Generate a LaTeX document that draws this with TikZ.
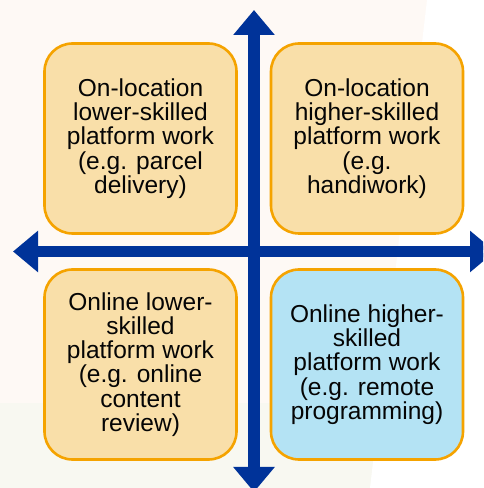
\documentclass[tikz,border=0pt]{standalone}
\usepackage{fontspec}
\setmainfont{Liberation Sans}
\usepackage{tikz}
\usetikzlibrary{arrows.meta,positioning}
\definecolor{QAxis}{HTML}{003399}
\definecolor{QOrange}{HTML}{F5A300}
\definecolor{QSand}{HTML}{F9DFA9}
\definecolor{QSky}{HTML}{B4E3F4}
\definecolor{QInk}{HTML}{050505}
\definecolor{QWashTop}{HTML}{FEF9F5}
\definecolor{QWashLow}{HTML}{F8F8F1}
\tikzset{
  axis/.style={{Triangle[width=40pt,length=25pt]}-{Triangle[width=40pt,length=25pt]},
               QAxis,line width=11.5pt},
  quad/.style={draw=QOrange,line width=2.6pt,fill=QSand,rounded corners=28pt,
               minimum width=192pt,minimum height=190pt,text=QInk,align=center,
               font=\fontsize{24.5}{24.3}\selectfont},
  quadblue/.style={quad,fill=QSky},
}

\begin{document}
\begin{tikzpicture}[x=1pt,y=1pt]
    \useasboundingbox (0,0) rectangle (483,488);
    \clip (0,0) rectangle (483,488);

    % faint backdrop
    \fill[QWashTop] (0,0) rectangle (483,488);
    \fill[QWashLow] (0,0) rectangle (483,85);
    \fill[white] (427,488) -- (483,488) -- (483,0) -- (370,0) -- cycle;

    % quadrant boxes
    \node[quad] (onlow) at (140.5,349.5)
      {On-location\\lower-skilled\\platform work\\(e.g. parcel\\delivery)};
    \node[quad] (onhigh) at (367,349.5)
      {On-location\\higher-skilled\\platform work\\(e.g.\\handiwork)};
    \node[quad] (weblow) at (140.5,123.5)
      {Online lower-\\skilled\\platform work\\(e.g. online\\content\\review)};
    \node[quadblue] (webhigh) at (367,123.5)
      {Online higher-\\skilled\\platform work\\(e.g. remote\\programming)};

    % axes
    \coordinate (up) at (254,478);
    \coordinate (down) at (254,-4);
    \coordinate (west) at (13,236.5);
    \coordinate (east) at (495,236.5);
    \draw[axis] (down) -- (up);
    \draw[axis] (west) -- (east);
  \end{tikzpicture}
\end{document}
